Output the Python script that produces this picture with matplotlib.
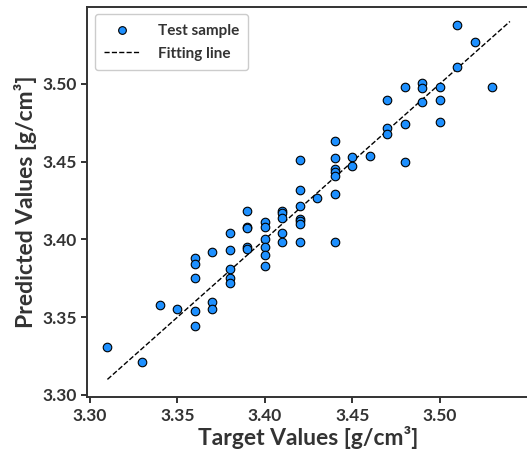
import matplotlib
matplotlib.use("Agg")
import matplotlib.pyplot as plt
import numpy as np

plt.rcParams['font.family'] = ['Lato', 'DejaVu Sans']
plt.rcParams['font.weight'] = 'bold'

target = [3.31, 3.33, 3.34, 3.35,
          3.36, 3.36, 3.36, 3.36, 3.36,
          3.37, 3.37, 3.37,
          3.38, 3.38, 3.38, 3.38, 3.38,
          3.39, 3.39, 3.39, 3.39, 3.39,
          3.40, 3.40, 3.40, 3.40, 3.40, 3.40,
          3.41, 3.41, 3.41, 3.41, 3.41,
          3.42, 3.42, 3.42, 3.42, 3.42, 3.42, 3.42,
          3.43,
          3.44, 3.44, 3.44, 3.44, 3.44, 3.44, 3.44,
          3.45, 3.45,
          3.46,
          3.47, 3.47, 3.47,
          3.48, 3.48, 3.48,
          3.49, 3.49, 3.49,
          3.50, 3.50, 3.50,
          3.51, 3.51,
          3.52,
          3.53]
predicted = [3.331, 3.321, 3.358, 3.355,
             3.388, 3.384, 3.375, 3.354, 3.3445,
             3.392, 3.360, 3.355,
             3.404, 3.393, 3.381, 3.375, 3.372,
             3.418, 3.408, 3.407, 3.395, 3.394,
             3.411, 3.408, 3.400, 3.395, 3.390, 3.383,
             3.418, 3.417, 3.414, 3.404, 3.3985,
             3.451, 3.4315, 3.4215, 3.413, 3.412, 3.410, 3.398,
             3.4265,
             3.4635, 3.452, 3.4455, 3.443, 3.4405, 3.429, 3.3985,
             3.453, 3.447,
             3.4535,
             3.4895, 3.4715, 3.4675,
             3.498, 3.474, 3.450,
             3.5005, 3.4975, 3.488,
             3.498, 3.4895, 3.4755,
             3.538, 3.5105,
             3.527,
             3.498]
fit_x = [3.31, 3.54]
fit_y = [3.31, 3.54]

xticks = [3.30, 3.35, 3.40, 3.45, 3.50]
yticks = [3.30, 3.35, 3.40, 3.45, 3.50]

dark = '#333333'

fig = plt.figure(figsize=(5.27, 4.61), dpi=100)
ax = fig.add_axes([87.3/527, 63.7/461, 442.75/527, 390.6/461])

ax.scatter(target, predicted, s=38, c='#1E90FF', edgecolors='black',
           linewidths=0.8, label='Test sample', zorder=3)
ax.plot(fit_x, fit_y, '--', color='black', lw=1.0, label='Fitting line', zorder=2)

ax.set_xlim(3.2985, 3.5515)
ax.set_ylim(3.2985, 3.5495)
ax.set_xticks(xticks)
ax.set_yticks(yticks)
ax.set_xticklabels([f'{t:.2f}' for t in xticks])
ax.set_yticklabels([f'{t:.2f}' for t in yticks])

for s in ax.spines.values():
    s.set_linewidth(1.4)
    s.set_color(dark)
ax.spines['right'].set_visible(False)

ax.tick_params(axis='both', labelsize=12.5, colors=dark, width=1.4, length=4,
               direction='out', top=False, right=False)
for lab in ax.get_xticklabels() + ax.get_yticklabels():
    lab.set_fontweight('bold')

ax.set_xlabel('Target Values [g/cm³]', fontsize=16.5, fontweight='bold', color=dark, labelpad=2)
ax.set_ylabel('Predicted Values [g/cm³]', fontsize=16.5, fontweight='bold', color=dark, labelpad=4)

leg = ax.legend(loc='upper left', fontsize=11, markerscale=0.9,
                handletextpad=1.2, handlelength=2.3, borderpad=0.6,
                labelspacing=0.6, framealpha=1, fancybox=True)
for t in leg.get_texts():
    t.set_color(dark)
    t.set_fontweight('bold')

fig.savefig('out.png', dpi=100)
